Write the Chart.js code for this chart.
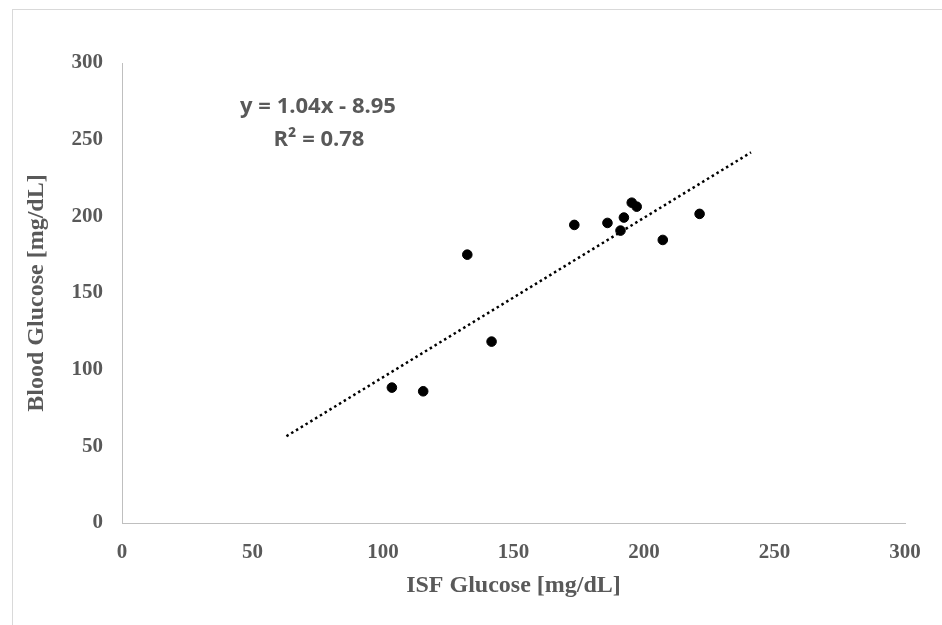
<!DOCTYPE html>
<html>
<head>
<meta charset="utf-8">
<script src="https://cdn.jsdelivr.net/npm/chart.js@4.4.1/dist/chart.umd.min.js"></script>
<style>
  html, body { margin: 0; padding: 0; background: #fff; }
  #wrap { position: relative; width: 942px; height: 625px; overflow: hidden; }
  #frame { position: absolute; left: 12px; top: 9px; width: 1000px; height: 700px;
           border-left: 1px solid #d9d9d9; border-top: 1px solid #d9d9d9; }
  canvas { position: absolute; left: 0; top: 0; }
</style>
</head>
<body>
<div id="wrap">
  <div id="frame"></div>
  <canvas id="myCanvas" width="942" height="625"></canvas>
</div>
<script>
// ISF vs blood glucose readings
var isfGlucose   = [103.4, 115.4, 132.3, 141.6, 173.3, 186.0, 191.0, 192.3, 195.3, 197.2, 207.2, 221.3];
var bloodGlucose = [88.3,  85.9,  175.0, 118.3, 194.4, 195.7, 190.7, 199.2, 208.9, 206.3, 184.6, 201.6];

// trend line ends
var trendX = [63, 241];
var trendY = [56.6, 241.7];

var eqLines = ['y = 1.04x - 8.95', 'R\u00b2 = 0.78'];

var points = isfGlucose.map(function (x, i) { return { x: x, y: bloodGlucose[i] }; });
var trend = trendX.map(function (x, i) { return { x: x, y: trendY[i] }; });

var tickFont = { family: 'Liberation Serif', size: 21, weight: 'bold' };
var titleFont = { family: 'Liberation Serif', size: 24, weight: 'bold' };

var equationLabel = {
    id: 'equationLabel',
    afterDraw: function (chart) {
        var c = chart.ctx;
        c.save();
        c.font = 'bold 22px "Open Sans"';
        c.fillStyle = '#595959';
        c.textAlign = 'center';
        c.textBaseline = 'middle';
        c.fillText(eqLines[0], 318, 107);
        c.fillText(eqLines[1], 319, 140);
        c.restore();
    }
};

var ctx = document.getElementById('myCanvas').getContext('2d');
var myChart = new Chart(ctx, {
    type: 'scatter',
    data: {
        datasets: [{
            label: 'Data',
            data: points,
            backgroundColor: '#000',
            borderColor: '#000',
            pointRadius: 4.8,
            pointHoverRadius: 4.8
        },
        {
            label: 'Linear',
            type: 'line',
            data: trend,
            borderColor: '#000',
            borderWidth: 2.5,
            borderDash: [2.5, 3.1],
            pointRadius: 0,
            fill: false
        }]
    },
    options: {
        responsive: false,
        animation: false,
        events: [],
        layout: { padding: { left: 22, right: 37, top: 63, bottom: 25 } },
        plugins: {
            legend: { display: false },
            tooltip: { enabled: false }
        },
        scales: {
            x: {
                type: 'linear',
                min: 0,
                max: 300,
                ticks: { stepSize: 50, color: '#595959', font: tickFont, padding: 17 },
                grid: { display: false, drawTicks: false },
                border: { display: true, color: '#bfbfbf', width: 1 },
                title: { display: true, text: 'ISF Glucose [mg/dL]', color: '#595959', font: titleFont, padding: 0 },
                afterFit: function (scale) { scale.height = 77; }
            },
            y: {
                type: 'linear',
                min: 0,
                max: 300,
                ticks: { stepSize: 50, color: '#595959', font: tickFont, padding: 19 },
                grid: { display: false, drawTicks: false },
                border: { display: true, color: '#bfbfbf', width: 1 },
                title: { display: true, text: 'Blood Glucose [mg/dL]', color: '#595959', font: titleFont, padding: 0 },
                afterFit: function (scale) { scale.width = 100; }
            }
        }
    },
    plugins: [equationLabel]
});
</script>
</body>
</html>
